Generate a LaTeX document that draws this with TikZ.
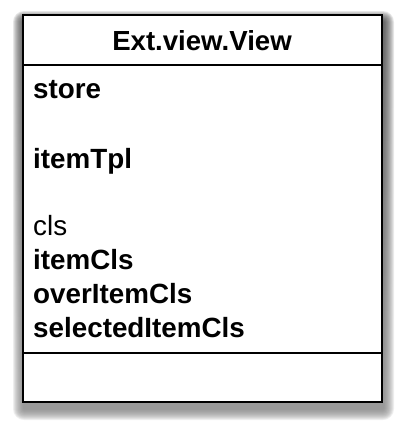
\documentclass[tikz,border=0pt]{standalone}
\usepackage{fontspec}
\setmainfont{Liberation Sans}
\usetikzlibrary{calc,positioning}
\definecolor{ink}{HTML}{000000}
\definecolor{shade}{HTML}{3A3A3A}

\begin{document}
\begin{tikzpicture}[
  x=1pt,y=-1pt,
  font=\fontsize{27.8}{32}\selectfont,
  frame/.style={draw=ink,line width=2.2pt,fill=white},
  divider/.style={draw=ink,line width=1.8pt},
  title/.style={font=\fontsize{27.6}{32}\selectfont\bfseries,anchor=base,inner sep=0pt},
  attr/.style={font=\fontsize{27.8}{32}\selectfont\bfseries,anchor=base west,inner sep=0pt},
  plainattr/.style={font=\fontsize{27.8}{32}\selectfont,anchor=base west,inner sep=0pt}
]
  \useasboundingbox (0,0) rectangle (404,432);

  \coordinate (nw) at (23,15);
  \coordinate (se) at (382,402);

  % soft shadow
  \foreach \r in {11,...,1}
    \fill[shade,opacity=.065,rounded corners=\r pt] ($(nw)+(1-\r,7-\r)$) rectangle ($(se)+(1+\r,7+\r)$);

  \draw[frame] (nw) rectangle (se);
  \draw[divider] (23,65) -- (382,65);
  \draw[divider] (23,353) -- (382,353);

  \node[title] (name) at (202,50) {Ext.view.View};

  \node[attr] (store) at (33,98) {store};
  \node[attr] (tpl) at (33,168) {itemTpl};
  \node[plainattr] (cls) at (33,235) {cls};
  \node[attr] (itemcls) at (33,269) {itemCls};
  \node[attr] (overcls) at (33,303) {overItemCls};
  \node[attr] (selcls) at (33,337) {selectedItemCls};
\end{tikzpicture}
\end{document}
